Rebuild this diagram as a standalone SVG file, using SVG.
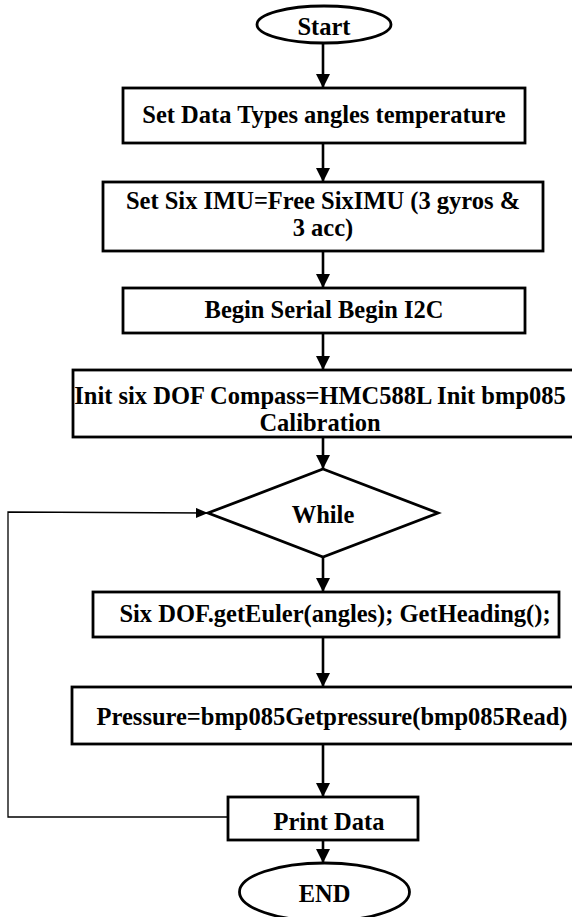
<svg xmlns="http://www.w3.org/2000/svg" width="572" height="917" viewBox="0 0 572 917">
<defs>
<style>
.b{fill:#fff;stroke:#000;stroke-width:2.8}
.t{font-family:"Liberation Serif","Times New Roman",serif;font-weight:bold;font-size:24.5px;fill:#000;text-anchor:middle;dominant-baseline:central}
.c{fill:none;stroke:#000;stroke-width:2.6}
.l{fill:none;stroke:#000;stroke-width:1.3}
</style>
<marker id="a" markerUnits="userSpaceOnUse" markerWidth="14" markerHeight="16" refX="14" refY="7" orient="auto" viewBox="0 0 14 14">
<path d="M0,0 L14,7 L0,14 Z" fill="#000"/>
</marker>
<marker id="s" markerUnits="userSpaceOnUse" markerWidth="12" markerHeight="10" refX="12" refY="5" orient="auto" viewBox="0 0 12 10">
<path d="M0,0 L12,5 L0,10 Z" fill="#000"/>
</marker>
</defs>
<rect width="572" height="917" fill="#fff"/>
<g id="connectors">
<line class="c" x1="323" y1="43" x2="323" y2="88" marker-end="url(#a)"/>
<line class="c" x1="323" y1="143" x2="323" y2="182" marker-end="url(#a)"/>
<line class="c" x1="323" y1="251" x2="323" y2="288" marker-end="url(#a)"/>
<line class="c" x1="323" y1="333" x2="323" y2="370" marker-end="url(#a)"/>
<line class="c" x1="323" y1="437" x2="323" y2="469" marker-end="url(#a)"/>
<line class="c" x1="323" y1="557" x2="323" y2="592" marker-end="url(#a)"/>
<line class="c" x1="323" y1="637" x2="323" y2="687" marker-end="url(#a)"/>
<line class="c" x1="323" y1="744" x2="323" y2="797" marker-end="url(#a)"/>
<line class="c" x1="323" y1="840" x2="323" y2="863" marker-end="url(#a)"/>
<polyline class="l" points="228,817 8,817 8,512 208,513" marker-end="url(#s)"/>
</g>
<g id="start">
<ellipse class="b" cx="324" cy="24.5" rx="67" ry="18.5"/>
<text class="t" x="324" y="26">Start</text>
</g>
<g id="set-data-types">
<rect class="b" x="123" y="88" width="402" height="55"/>
<text class="t" x="324" y="114">Set Data Types angles temperature</text>
</g>
<g id="set-six-imu">
<rect class="b" x="103" y="182" width="440" height="69"/>
<text class="t" x="323" y="200">Set Six IMU=Free SixIMU (3 gyros &amp;</text>
<text class="t" x="323" y="227">3 acc)</text>
</g>
<g id="begin-serial">
<rect class="b" x="123" y="288" width="402" height="45"/>
<text class="t" x="324" y="309">Begin Serial Begin I2C</text>
</g>
<g id="init">
<rect class="b" x="73" y="370" width="510" height="67"/>
<text class="t" x="320" y="395">Init six DOF Compass=HMC588L Init bmp085</text>
<text class="t" x="320" y="422">Calibration</text>
</g>
<g id="while">
<polygon class="b" points="323,469 438,513 323,557 208,513"/>
<text class="t" x="323" y="514">While</text>
</g>
<g id="get-euler">
<rect class="b" x="93" y="592" width="466" height="45"/>
<text class="t" x="335" y="613">Six DOF.getEuler(angles); GetHeading();</text>
</g>
<g id="pressure">
<rect class="b" x="72" y="687" width="511" height="57"/>
<text class="t" x="332" y="716">Pressure=bmp085Getpressure(bmp085Read)</text>
</g>
<g id="print-data">
<rect class="b" x="228" y="797" width="190" height="43"/>
<text class="t" x="329" y="821">Print Data</text>
</g>
<g id="end">
<ellipse class="b" cx="324.5" cy="892" rx="85" ry="29"/>
<text class="t" x="324.5" y="893">END</text>
</g>
</svg>
